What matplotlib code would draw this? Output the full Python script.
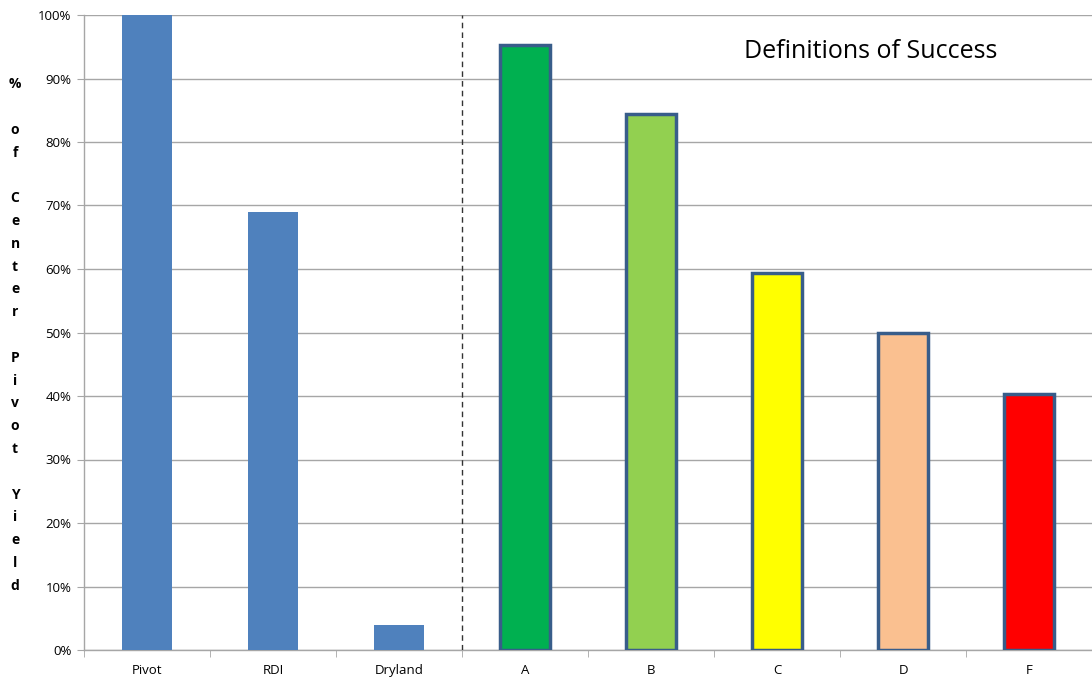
import matplotlib
matplotlib.use("Agg")
import matplotlib.pyplot as plt
import numpy as np
from matplotlib.ticker import FuncFormatter, FixedLocator

categories = ["Pivot", "RDI", "Dryland", "A", "B", "C", "D", "F"]
values = [100, 69, 4, 95.3, 84.4, 59.4, 50, 40.3]
fill_colors = ["#4f81bd", "#4f81bd", "#4f81bd", "#00b050", "#92d050", "#ffff00", "#fac090", "#ff0000"]
edge_flags = [False, False, False, True, True, True, True, True]
y_ticks = list(range(0, 101, 10))
title_text = "Definitions of Success"
ylabel_text = "% of Center Pivot Yield"

plt.rcParams['font.family'] = ['Open Sans', 'DejaVu Sans']

fig = plt.figure(figsize=(10.92, 6.81), dpi=100)
W, H = 1092, 681
ax = fig.add_axes([84 / W, 1 - 650 / H, (1092 - 84) / W, (650 - 15) / H])

x = np.arange(len(categories))
for xi, v, c, e in zip(x, values, fill_colors, edge_flags):
    if e:
        ax.bar(xi, v, width=0.4, color=c, edgecolor="#385d8a", linewidth=2.5, zorder=3)
    else:
        ax.bar(xi, v, width=0.4, color=c, edgecolor="none", zorder=3)

ax.set_xlim(-0.5, len(categories) - 0.5)
ax.set_ylim(0, 100)
ax.set_yticks(y_ticks)
ax.yaxis.set_major_formatter(FuncFormatter(lambda v, p: f"{int(v)}%"))
ax.yaxis.grid(True, color="#a6a6a6", linewidth=1.0, zorder=0)
ax.set_axisbelow(True)

ax.set_xticks(x)
ax.set_xticklabels(categories)
ax.tick_params(axis="x", which="major", length=0, pad=10, labelsize=9.5, colors="black")
ax.xaxis.set_minor_locator(FixedLocator(np.arange(-0.5, len(categories) + 0.5, 1.0)))
ax.tick_params(axis="x", which="minor", length=5, color="#a6a6a6", direction="out")
ax.tick_params(axis="y", length=5, color="#a6a6a6", labelsize=9.5, pad=4)

for s in ["top", "right"]:
    ax.spines[s].set_visible(False)
for s in ["left", "bottom"]:
    ax.spines[s].set_color("#a6a6a6")
    ax.spines[s].set_linewidth(1.0)

ax.axvline(2.5, color="#333333", linestyle=(0, (4, 3)), linewidth=1.0, zorder=4)

ax.text(0.78, 0.943, title_text, transform=ax.transAxes, fontsize=18, ha="center", va="center")

fig.text(15 / W, 1 - 335 / H, "\n".join(list(ylabel_text)), fontsize=10, fontweight="bold",
         ha="center", va="center", linespacing=1.8)

fig.savefig("out.png", dpi=100)
